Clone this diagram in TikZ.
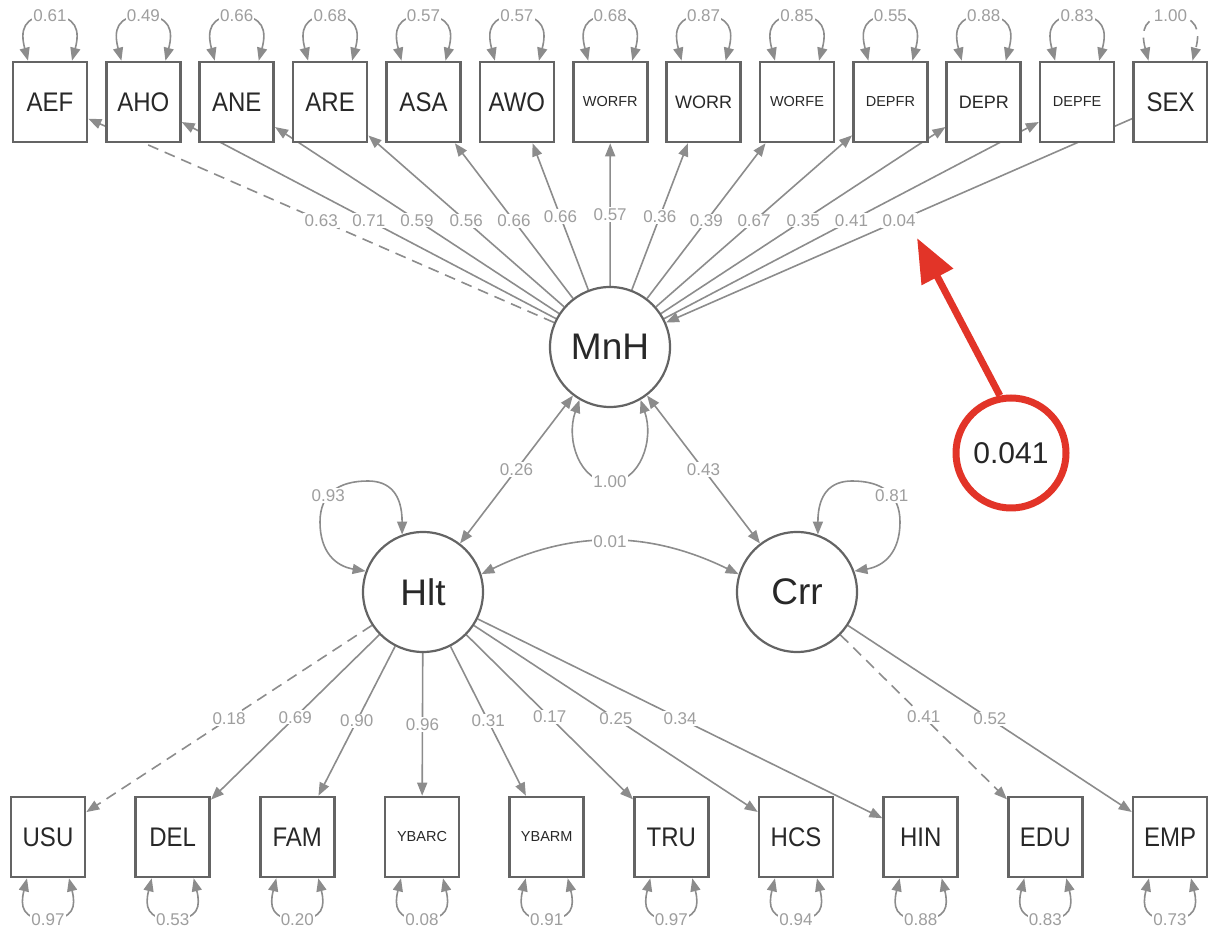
\documentclass[tikz,border=0pt]{standalone}
\usepackage{fontspec}
\setmainfont{Liberation Sans}
\usetikzlibrary{arrows.meta,backgrounds,calc}

\definecolor{edgegray}{RGB}{140,140,140}
\definecolor{boxgray}{RGB}{100,100,100}
\definecolor{labgray}{RGB}{158,158,158}
\definecolor{txtgray}{RGB}{40,40,40}
\definecolor{markred}{RGB}{226,52,40}

\newcommand{\tallname}[1]{\scalebox{1}[1.12]{#1}}

% residual variance loop above an indicator box: [options]{node}{label}
\newcommand{\vartop}[3][]{%
  \draw[vloop,#1] ([xshift=-22pt]#2.north) .. controls +(-8,30) and +(-27,0) ..
    ([yshift=45pt]#2.north) coordinate (#2-vt) .. controls +(27,0) and +(8,30) ..
    ([xshift=22pt]#2.north);
  \node[elab] at (#2-vt) {#3};}

% residual variance loop below an indicator box: {node}{label}
\newcommand{\varbot}[2]{%
  \draw[vloop] ([xshift=-21pt]#1.south) .. controls +(-7,-28) and +(-26,0) ..
    ([yshift=-41pt]#1.south) coordinate (#1-vb) .. controls +(26,0) and +(7,-28) ..
    ([xshift=21pt]#1.south);
  \node[elab] at (#1-vb) {#2};}

\begin{document}
\begin{tikzpicture}[x=1pt,y=1pt,
  manifest/.style={rectangle, draw=boxgray, line width=2.6pt, fill=white,
    minimum width=74pt, minimum height=80pt, inner sep=0pt, text=txtgray},
  bigname/.style={font=\fontsize{24}{24}\selectfont},
  midname/.style={font=\fontsize{18}{18}\selectfont},
  smallname/.style={font=\fontsize{14.5}{14.5}\selectfont},
  latent/.style={circle, draw=boxgray, line width=2.2pt, fill=white,
    minimum size=120pt, inner sep=0pt, text=txtgray,
    font=\fontsize{37}{37}\selectfont},
  tip/.tip={Triangle[length=13pt,width=10pt]},
  load/.style={draw=edgegray, line width=1.6pt, -tip},
  fixedpath/.style={dash pattern=on 11pt off 7pt},
  dbl/.style={draw=edgegray, line width=1.6pt, tip-tip},
  vloop/.style={draw=edgegray, line width=1.6pt, tip-tip},
  elab/.style={fill=white, inner sep=1.2pt, text=labgray,
    font=\fontsize{17}{17}\selectfont},
  note/.style={circle, draw=markred, line width=7pt, fill=white,
    minimum size=110pt, inner sep=0pt, text=black!85,
    font=\fontsize{30}{30}\selectfont},
  pointer/.style={draw=markred, line width=7pt,
    -{Triangle[length=44pt,width=34pt]}}
]
\useasboundingbox (0,0) rectangle (1208,932);

% latent factors
\node[latent] (MnH) at (610,585) {MnH};
\node[latent] (Hlt) at (423,340) {Hlt};
\node[latent] (Crr) at (797,340) {Crr};

% indicators of MnH and the covariate SEX
\node[manifest,bigname]   (AEF)   at (50,830)     {\tallname{AEF}};
\node[manifest,bigname]   (AHO)   at (143.4,830)  {\tallname{AHO}};
\node[manifest,bigname]   (ANE)   at (236.75,830) {\tallname{ANE}};
\node[manifest,bigname]   (ARE)   at (330.1,830)  {\tallname{ARE}};
\node[manifest,bigname]   (ASA)   at (423.5,830)  {\tallname{ASA}};
\node[manifest,bigname]   (AWO)   at (516.9,830)  {\tallname{AWO}};
\node[manifest,smallname] (WORFR) at (610.25,830) {WORFR};
\node[manifest,midname]   (WORR)  at (703.6,830)  {WORR};
\node[manifest,smallname] (WORFE) at (797,830)    {WORFE};
\node[manifest,smallname] (DEPFR) at (890.4,830)  {DEPFR};
\node[manifest,midname]   (DEPR)  at (983.75,830) {DEPR};
\node[manifest,smallname] (DEPFE) at (1077.1,830) {DEPFE};
\node[manifest,bigname]   (SEX)   at (1170.5,830) {\tallname{SEX}};

% indicators of Hlt and Crr
\node[manifest,bigname]   (USU)   at (48,95)     {\tallname{USU}};
\node[manifest,bigname]   (DEL)   at (172.7,95)  {\tallname{DEL}};
\node[manifest,bigname]   (FAM)   at (297.3,95)  {\tallname{FAM}};
\node[manifest,smallname] (YBARC) at (422,95)    {YBARC};
\node[manifest,smallname] (YBARM) at (546.7,95)  {YBARM};
\node[manifest,bigname]   (TRU)   at (671.3,95)  {\tallname{TRU}};
\node[manifest,bigname]   (HCS)   at (796,95)    {\tallname{HCS}};
\node[manifest,bigname]   (HIN)   at (920.7,95)  {\tallname{HIN}};
\node[manifest,bigname]   (EDU)   at (1045.3,95) {\tallname{EDU}};
\node[manifest,bigname]   (EMP)   at (1170,95)   {\tallname{EMP}};

% loadings, regression and covariances (behind the boxes)
\begin{scope}[on background layer]
  \draw[load,fixedpath] (MnH) -- node[elab] {0.63} (AEF);
  \draw[load] (MnH) -- node[elab] {0.71} (AHO);
  \draw[load] (MnH) -- node[elab] {0.59} (ANE);
  \draw[load] (MnH) -- node[elab] {0.56} (ARE);
  \draw[load] (MnH) -- node[elab] {0.66} (ASA);
  \draw[load] (MnH) -- node[elab] {0.66} (AWO);
  \draw[load] (MnH) -- node[elab] {0.57} (WORFR);
  \draw[load] (MnH) -- node[elab] {0.36} (WORR);
  \draw[load] (MnH) -- node[elab] {0.39} (WORFE);
  \draw[load] (MnH) -- node[elab] {0.67} (DEPFR);
  \draw[load] (MnH) -- node[elab] {0.35} (DEPR);
  \draw[load] (MnH) -- node[elab] {0.41} (DEPFE);
  \draw[load] (SEX) -- node[elab] {0.04} (MnH);

  \draw[load,fixedpath] (Hlt) -- node[elab] {0.18} (USU);
  \draw[load] (Hlt) -- node[elab] {0.69} (DEL);
  \draw[load] (Hlt) -- node[elab] {0.90} (FAM);
  \draw[load] (Hlt) -- node[elab] {0.96} (YBARC);
  \draw[load] (Hlt) -- node[elab] {0.31} (YBARM);
  \draw[load] (Hlt) -- node[elab] {0.17} (TRU);
  \draw[load] (Hlt) -- node[elab] {0.25} (HCS);
  \draw[load] (Hlt) -- node[elab] {0.34} (HIN);
  \draw[load,fixedpath] (Crr) -- node[elab] {0.41} (EDU);
  \draw[load] (Crr) -- node[elab] {0.52} (EMP);

  \draw[dbl] (MnH) -- node[elab] {0.26} (Hlt);
  \draw[dbl] (MnH) -- node[elab] {0.43} (Crr);
  \draw[dbl] (Hlt.17) to[bend left=26] node[elab] {0.01} (Crr.163);
\end{scope}

% residual variances of the indicators
\vartop{AEF}{0.61}
\vartop{AHO}{0.49}
\vartop{ANE}{0.66}
\vartop{ARE}{0.68}
\vartop{ASA}{0.57}
\vartop{AWO}{0.57}
\vartop{WORFR}{0.68}
\vartop{WORR}{0.87}
\vartop{WORFE}{0.85}
\vartop{DEPFR}{0.55}
\vartop{DEPR}{0.88}
\vartop{DEPFE}{0.83}
\vartop[fixedpath]{SEX}{1.00}

\varbot{USU}{0.97}
\varbot{DEL}{0.53}
\varbot{FAM}{0.20}
\varbot{YBARC}{0.08}
\varbot{YBARM}{0.91}
\varbot{TRU}{0.97}
\varbot{HCS}{0.94}
\varbot{HIN}{0.88}
\varbot{EDU}{0.83}
\varbot{EMP}{0.73}

% factor variances
\draw[vloop] (MnH.240) .. controls +(-14,-40) and +(-30,0) ..
  ([yshift=-74pt]MnH.south) node[elab] {1.00}
  .. controls +(30,0) and +(14,-40) .. (MnH.300);
\draw[vloop] (Hlt.110) .. controls +(0,40) and +(22,0) .. (368,451)
  .. controls +(-30,0) and +(0,28) .. (320,410) node[elab,pos=0.6] {0.93}
  .. controls +(0,-30) and +(-30,5) .. (Hlt.160);
\draw[vloop] (Crr.70) .. controls +(0,40) and +(-22,0) .. (852,451)
  .. controls +(30,0) and +(0,28) .. (900,410) node[elab,pos=0.6] {0.81}
  .. controls +(0,-30) and +(30,5) .. (Crr.20);

% highlighted estimate
\node[note] (mark) at (1011,479) {0.041};
\coordinate (marktip) at (917,694);
\draw[pointer] (mark.101) -- (marktip);
\end{tikzpicture}
\end{document}
